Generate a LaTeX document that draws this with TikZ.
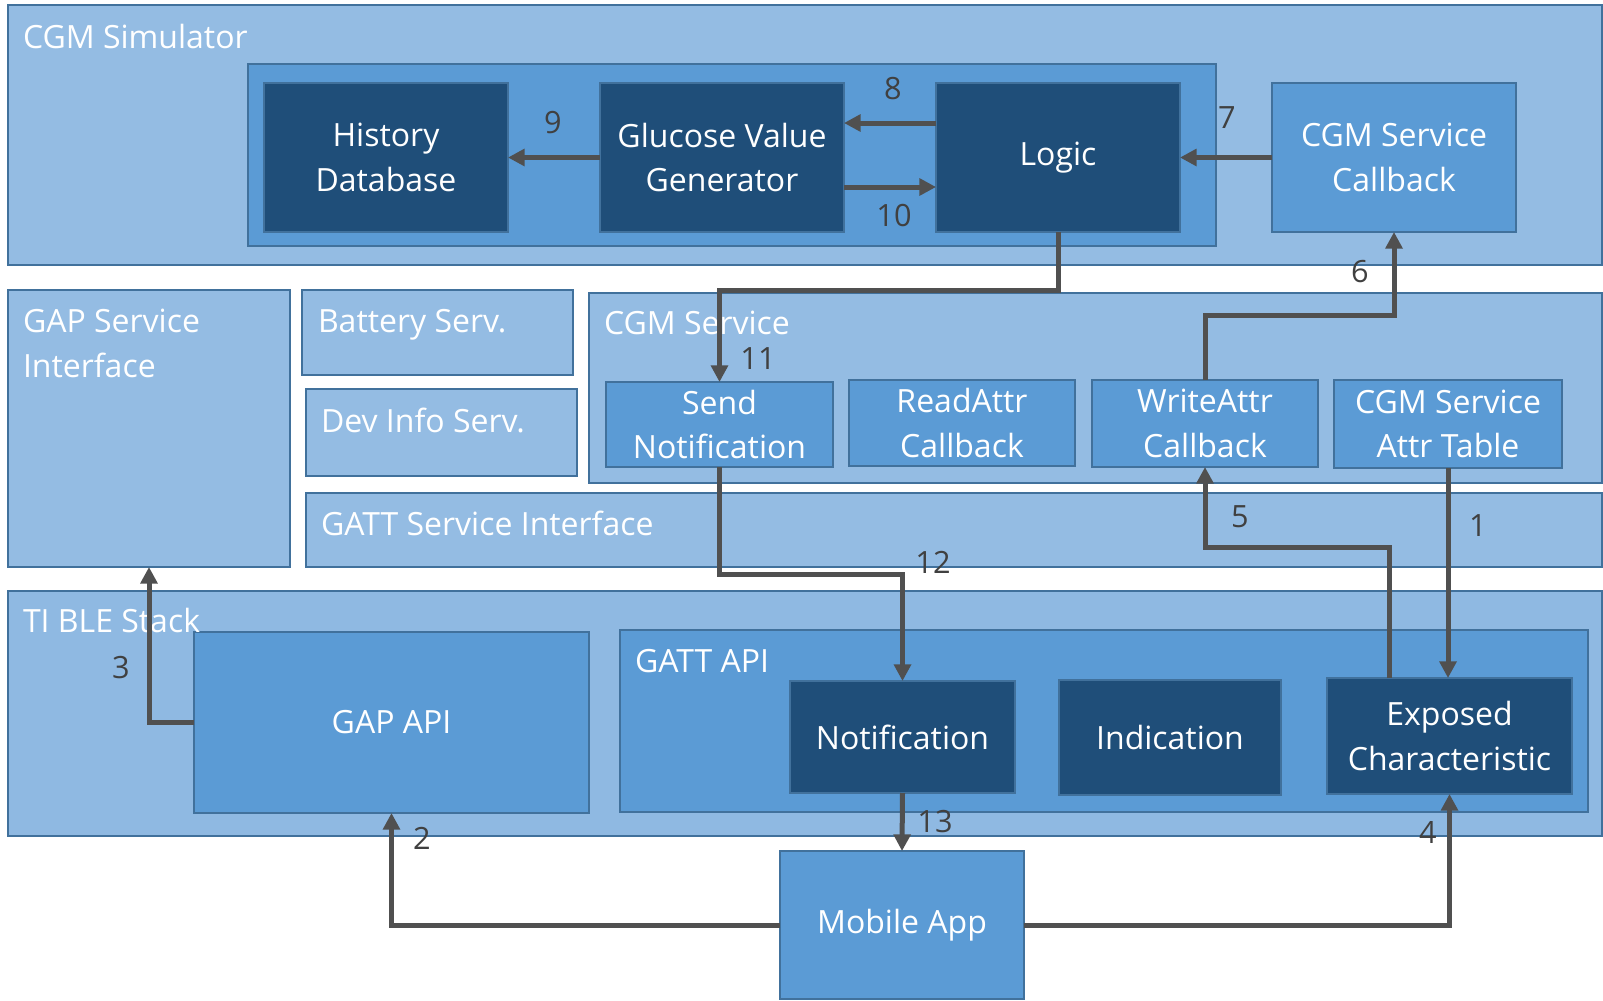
\documentclass[tikz,border=0pt]{standalone}
\usepackage{fontspec}
\setmainfont{Open Sans}
\usetikzlibrary{arrows.meta}

\definecolor{lightfill}{RGB}{148,188,227}
\definecolor{stackfill}{RGB}{143,185,226}
\definecolor{midfill}{RGB}{91,155,213}
\definecolor{darkfill}{RGB}{31,78,121}
\definecolor{edgeblue}{RGB}{65,113,156}
\definecolor{flowgray}{RGB}{80,80,80}
\definecolor{numgray}{RGB}{64,64,64}

\tikzset{every picture/.style={line width=1.5pt},
  boxsize/.style 2 args={minimum width=#1*0.75pt,minimum height=#2*0.75pt},
  block/.style={draw=edgeblue,rectangle,inner sep=0pt,outer sep=0pt,text=white,align=center,font=\fontsize{24}{33.5}\selectfont},
  outerbox/.style={block,fill=lightfill},
  midbox/.style={block,fill=midfill},
  darkbox/.style={block,fill=darkfill},
  boxtitle/.style={anchor=base west,inner sep=0pt,text=white,align=left,font=\fontsize{24}{33.5}\selectfont},
  flow/.style={draw=flowgray,line width=3.75pt,-{Triangle[length=12.5pt,width=12.5pt]}},
  num/.style={text=numgray,inner sep=0pt,font=\fontsize{23}{26}\selectfont}
}

\begin{document}
\begin{tikzpicture}[x=0.75pt,y=0.75pt,yscale=-1,xscale=1]
\useasboundingbox (0,0) rectangle (1603,1000);

%Shape: CGM Simulator
\node[outerbox,boxsize={1594}{260}] (sim) at (805,135) {};
\node[midbox,boxsize={968}{182}] (core) at (732,155) {};
\node[darkbox,boxsize={244}{149}] (hist) at (386,157.5) {History\\Database};
\node[darkbox,boxsize={244}{149}] (gen) at (722,157.5) {Glucose Value\\Generator};
\node[darkbox,boxsize={244}{149}] (logic) at (1058,157.5) {Logic};
\node[midbox,boxsize={244}{149}] (cb) at (1394,157.5) {CGM Service\\Callback};

%Shape: services
\node[outerbox,boxsize={282}{277}] (gapsi) at (149,428.5) {};
\node[outerbox,boxsize={271}{85}] (batt) at (437.5,332.5) {};
\node[outerbox,boxsize={271}{87}] (devinfo) at (441.5,432.5) {};
\node[outerbox,boxsize={1013}{190}] (cgmsvc) at (1095.5,388) {};
\node[midbox,boxsize={227}{85}] (send) at (719.5,424.5) {Send\\Notification};
\node[midbox,boxsize={226}{86}] (readcb) at (962,423) {ReadAttr\\Callback};
\node[midbox,boxsize={226}{87}] (writecb) at (1205,423.5) {WriteAttr\\Callback};
\node[midbox,boxsize={228}{88}] (attrtab) at (1448,424) {CGM Service\\Attr Table};
\node[outerbox,boxsize={1296}{74}] (gattsi) at (954,530) {};

%Shape: TI BLE Stack
\node[outerbox,fill=stackfill,boxsize={1594}{245}] (stack) at (805,713.5) {};
\node[midbox,boxsize={395}{181}] (gapapi) at (391.5,722.5) {GAP API};
\node[midbox,boxsize={968}{182}] (gattapi) at (1104,721) {};
\node[darkbox,boxsize={225}{112}] (notif) at (902.5,737) {Notification};
\node[darkbox,boxsize={222}{115}] (ind) at (1170,737.5) {Indication};
\node[darkbox,boxsize={245}{116}] (expo) at (1449.5,736) {Exposed\\Characteristic};

%Shape: Mobile App
\node[midbox,boxsize={244}{148}] (app) at (902,925) {Mobile App};

% Text Node
\node[boxtitle] (simtitle) at (22,48) {CGM Simulator};
\node[boxtitle] (gapsititle) at (22,377) {GAP Service\\Interface};
\node[boxtitle] (batttitle) at (317,332) {Battery Serv.};
\node[boxtitle] (devinfotitle) at (320,432) {Dev Info Serv.};
\node[boxtitle] (cgmsvctitle) at (603,334) {CGM Service};
\node[boxtitle] (gattsititle) at (320,535) {GATT Service Interface};
\node[boxtitle] (stacktitle) at (22,632) {TI BLE Stack};
\node[boxtitle] (gattapititle) at (634,672) {GATT API};

%Straight Lines
\coordinate (k11) at (900,290);
\coordinate (k6) at (1300,315);
\coordinate (k12) at (800,574);
\coordinate (k5) at (1300,547);
\draw[flow] (attrtab.south) -- (attrtab.south |- expo.north);
\draw[flow] (app.west) -| (gapapi.south);
\draw[flow] (gapapi.west) -| (gapsi.south);
\draw[flow] (app.east) -| (expo.south);
\draw[flow] ([xshift=-45pt]expo.north) |- (k5) -| (writecb.south);
\draw[flow] (writecb.north) |- (k6) -| (cb.south);
\draw[flow] (cb.west) -- (logic.east);
\draw[flow] (logic.west |- 0,123) -- (gen.east |- 0,123);
\draw[flow] (gen.west) -- (hist.east);
\draw[flow] (gen.east |- 0,187) -- (logic.west |- 0,187);
\draw[flow] (logic.south) |- (k11) -| (send.north);
\draw[flow] (send.south) |- (k12) -| (notif.north);
\draw[flow] (notif.south) -- (app.north);

% Text Node
\node[num] (n1) at (1478,526) {1};
\node[num] (n2) at (422,838) {2};
\node[num] (n3) at (121,668) {3};
\node[num] (n4) at (1428,832) {4};
\node[num] (n5) at (1240,517) {5};
\node[num] (n6) at (1360,272) {6};
\node[num] (n7) at (1227,118) {7};
\node[num] (n8) at (893,89) {8};
\node[num] (n9) at (553,123) {9};
\node[num] (n10) at (894,216) {10};
\node[num] (n11) at (758,359) {11};
\node[num] (n12) at (933,562) {12};
\node[num] (n13) at (935,822) {13};

\end{tikzpicture}
\end{document}
